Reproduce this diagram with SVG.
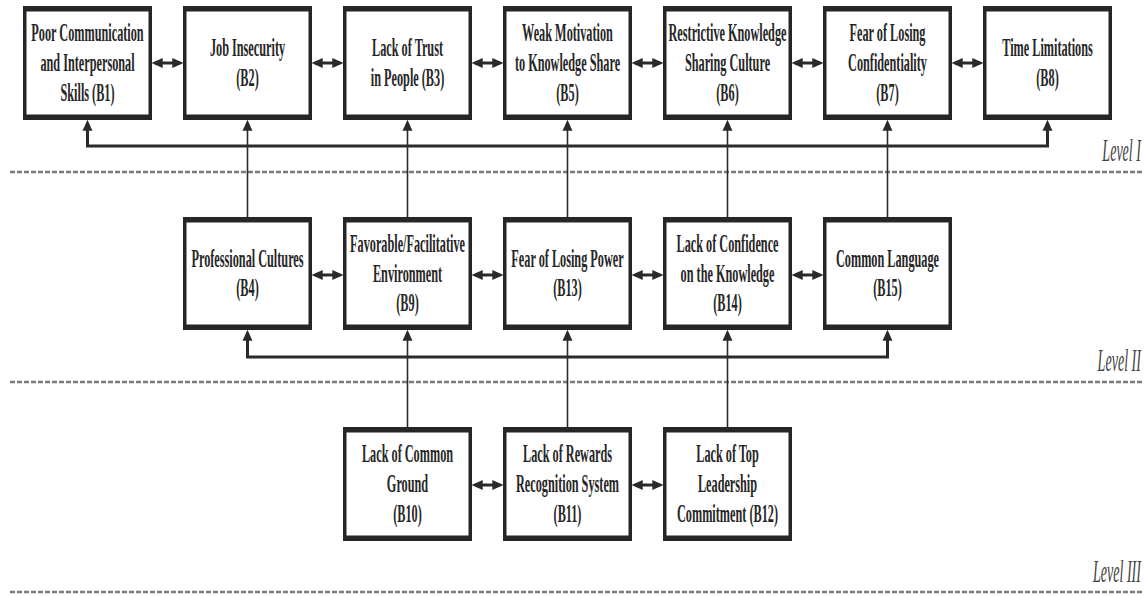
<svg xmlns="http://www.w3.org/2000/svg" width="1146" height="596" viewBox="0 0 1146 596">
<style>
.box{fill:#ffffff;stroke:#262626;stroke-width:3.5}
.bar{stroke:#262626;stroke-width:5.5;fill:none}
.lbl text{font-family:"Liberation Serif","Times New Roman",serif;font-weight:bold;font-size:25.5px;fill:#262626;text-anchor:middle}
.lvl{font-family:"Liberation Serif","Times New Roman",serif;font-style:italic;font-size:32px;fill:#444;text-anchor:end}
.dash{stroke:#7a7a7a;stroke-width:2.5;stroke-dasharray:5 2;fill:none}
.dbl{stroke:#2a2a2a;stroke-width:3;fill:none;marker-start:url(#ah);marker-end:url(#ah)}
.fb{stroke:#2a2a2a;stroke-width:3;fill:none;marker-start:url(#ah);marker-end:url(#ah)}
.up{stroke:#2a2a2a;stroke-width:1.6;fill:none;marker-end:url(#ah)}
</style>
<defs>
<marker id="ah" markerUnits="userSpaceOnUse" markerWidth="11" markerHeight="11" viewBox="0 0 10 10" refX="7" refY="5" orient="auto-start-reverse">
<path d="M0,0.5 L10,5 L0,9.5 z" fill="#2a2a2a"/>
</marker>
</defs>
<rect width="1146" height="596" fill="#ffffff"/>

<g id="levels">
<path class="dash" d="M10,172 H1142 M10,382 H1142 M10,592 H1142"/>
<text class="lvl" transform="translate(1141,161) scale(0.44,1)">Level I</text>
<text class="lvl" transform="translate(1141,371) scale(0.44,1)">Level II</text>
<text class="lvl" transform="translate(1141,582) scale(0.44,1)">Level III</text>
</g>

<g id="connectors">
<path class="dbl" d="M155,63 H180"/>
<path class="dbl" d="M315,63 H340"/>
<path class="dbl" d="M475,63 H500"/>
<path class="dbl" d="M635,63 H660"/>
<path class="dbl" d="M795,63 H820"/>
<path class="dbl" d="M955,63 H980"/>
<path class="dbl" d="M315,275 H340"/>
<path class="dbl" d="M475,275 H500"/>
<path class="dbl" d="M635,275 H660"/>
<path class="dbl" d="M795,275 H820"/>
<path class="dbl" d="M475,485 H500"/>
<path class="dbl" d="M635,485 H660"/>
<path class="fb" d="M87.5,123 V146 H1047.5 V123"/>
<path class="fb" d="M247.5,333 V357 H887.5 V333"/>
<path class="up" d="M247.5,217 V123"/>
<path class="up" d="M407.5,217 V123"/>
<path class="up" d="M567.5,217 V123"/>
<path class="up" d="M727.5,217 V123"/>
<path class="up" d="M887.5,217 V123"/>
<path class="up" d="M407.5,427 V333"/>
<path class="up" d="M567.5,427 V333"/>
<path class="up" d="M727.5,427 V333"/>
</g>

<g id="B1">
<rect class="box" x="24.75" y="8" width="125.5" height="110"/>
<path class="bar" d="M23,8.75 H152 M23,117.25 H152"/>
<g class="lbl" transform="translate(87.5,63) scale(0.48,1)"><text y="-22">Poor Communication</text><text y="8">and Interpersonal</text><text y="38">Skills (B1)</text></g>
</g>
<g id="B2">
<rect class="box" x="184.75" y="8" width="125.5" height="110"/>
<path class="bar" d="M183,8.75 H312 M183,117.25 H312"/>
<g class="lbl" transform="translate(247.5,63) scale(0.48,1)"><text y="-7">Job Insecurity</text><text y="23">(B2)</text></g>
</g>
<g id="B3">
<rect class="box" x="344.75" y="8" width="125.5" height="110"/>
<path class="bar" d="M343,8.75 H472 M343,117.25 H472"/>
<g class="lbl" transform="translate(407.5,63) scale(0.48,1)"><text y="-7">Lack of Trust</text><text y="23">in People (B3)</text></g>
</g>
<g id="B5">
<rect class="box" x="504.75" y="8" width="125.5" height="110"/>
<path class="bar" d="M503,8.75 H632 M503,117.25 H632"/>
<g class="lbl" transform="translate(567.5,63) scale(0.48,1)"><text y="-22">Weak Motivation</text><text y="8">to Knowledge Share</text><text y="38">(B5)</text></g>
</g>
<g id="B6">
<rect class="box" x="664.75" y="8" width="125.5" height="110"/>
<path class="bar" d="M663,8.75 H792 M663,117.25 H792"/>
<g class="lbl" transform="translate(727.5,63) scale(0.48,1)"><text y="-22">Restrictive Knowledge</text><text y="8">Sharing Culture</text><text y="38">(B6)</text></g>
</g>
<g id="B7">
<rect class="box" x="824.75" y="8" width="125.5" height="110"/>
<path class="bar" d="M823,8.75 H952 M823,117.25 H952"/>
<g class="lbl" transform="translate(887.5,63) scale(0.48,1)"><text y="-22">Fear of Losing</text><text y="8">Confidentiality</text><text y="38">(B7)</text></g>
</g>
<g id="B8">
<rect class="box" x="984.75" y="8" width="125.5" height="110"/>
<path class="bar" d="M983,8.75 H1112 M983,117.25 H1112"/>
<g class="lbl" transform="translate(1047.5,63) scale(0.48,1)"><text y="-7">Time Limitations</text><text y="23">(B8)</text></g>
</g>

<g id="B4">
<rect class="box" x="184.75" y="219" width="125.5" height="109"/>
<path class="bar" d="M183,219.75 H312 M183,327.25 H312"/>
<g class="lbl" transform="translate(247.5,273.5) scale(0.48,1)"><text y="-7">Professional Cultures</text><text y="23">(B4)</text></g>
</g>
<g id="B9">
<rect class="box" x="344.75" y="219" width="125.5" height="109"/>
<path class="bar" d="M343,219.75 H472 M343,327.25 H472"/>
<g class="lbl" transform="translate(407.5,273.5) scale(0.48,1)"><text y="-22">Favorable/Facilitative</text><text y="8">Environment</text><text y="38">(B9)</text></g>
</g>
<g id="B13">
<rect class="box" x="504.75" y="219" width="125.5" height="109"/>
<path class="bar" d="M503,219.75 H632 M503,327.25 H632"/>
<g class="lbl" transform="translate(567.5,273.5) scale(0.48,1)"><text y="-7">Fear of Losing Power</text><text y="23">(B13)</text></g>
</g>
<g id="B14">
<rect class="box" x="664.75" y="219" width="125.5" height="109"/>
<path class="bar" d="M663,219.75 H792 M663,327.25 H792"/>
<g class="lbl" transform="translate(727.5,273.5) scale(0.48,1)"><text y="-22">Lack of Confidence</text><text y="8">on the Knowledge</text><text y="38">(B14)</text></g>
</g>
<g id="B15">
<rect class="box" x="824.75" y="219" width="125.5" height="109"/>
<path class="bar" d="M823,219.75 H952 M823,327.25 H952"/>
<g class="lbl" transform="translate(887.5,273.5) scale(0.48,1)"><text y="-7">Common Language</text><text y="23">(B15)</text></g>
</g>

<g id="B10">
<rect class="box" x="344.75" y="429" width="125.5" height="110"/>
<path class="bar" d="M343,429.75 H472 M343,538.25 H472"/>
<g class="lbl" transform="translate(407.5,484) scale(0.48,1)"><text y="-22">Lack of Common</text><text y="8">Ground</text><text y="38">(B10)</text></g>
</g>
<g id="B11">
<rect class="box" x="504.75" y="429" width="125.5" height="110"/>
<path class="bar" d="M503,429.75 H632 M503,538.25 H632"/>
<g class="lbl" transform="translate(567.5,484) scale(0.48,1)"><text y="-22">Lack of Rewards</text><text y="8">Recognition System</text><text y="38">(B11)</text></g>
</g>
<g id="B12">
<rect class="box" x="664.75" y="429" width="125.5" height="110"/>
<path class="bar" d="M663,429.75 H792 M663,538.25 H792"/>
<g class="lbl" transform="translate(727.5,484) scale(0.48,1)"><text y="-22">Lack of Top</text><text y="8">Leadership</text><text y="38">Commitment (B12)</text></g>
</g>
</svg>
